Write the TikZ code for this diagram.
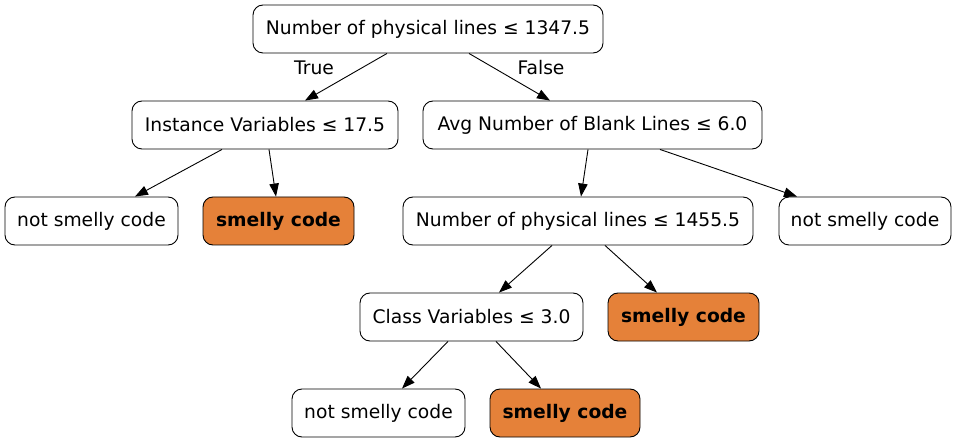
\documentclass[tikz,border=0pt]{standalone}
\usepackage{fontspec}
\setmainfont{DejaVu Sans}
\usetikzlibrary{arrows.meta}
\definecolor{smelly}{HTML}{E58139}
\tikzset{
  box/.style={draw=black, rounded corners=10pt, minimum height=48pt, inner sep=0pt, line width=0.9pt, font=\fontsize{18.7pt}{22pt}\selectfont, fill=white},
  smellybox/.style={box, fill=smelly, font=\fontsize{18.7pt}{22pt}\selectfont\bfseries},
  edge/.style={draw=black, line width=0.9pt, -{Triangle[length=13pt,width=9.5pt]}},
  elabel/.style={font=\fontsize{18.7pt}{22pt}\selectfont}
}
\begin{document}
\begin{tikzpicture}[x=1pt,y=-1pt]
\useasboundingbox (0,0) rectangle (957,443);
\node[box, minimum width=350pt] (root) at (428,29) {Number of physical lines ≤ 1347.5};
\node[box, minimum width=266pt] (inst) at (265,125) {Instance Variables ≤ 17.5};
\node[box, minimum width=339pt] (avg) at (592.5,125) {Avg Number of Blank Lines ≤ 6.0};
\node[box, minimum width=173pt] (ns1) at (91.5,221) {not smelly code};
\node[smellybox, minimum width=151pt] (sm1) at (278.5,221) {smelly code};
\node[box, minimum width=350pt] (num) at (578,221) {Number of physical lines ≤ 1455.5};
\node[box, minimum width=172pt] (ns2) at (865,221) {not smelly code};
\node[box, minimum width=223pt] (cls) at (471.5,317) {Class Variables ≤ 3.0};
\node[smellybox, minimum width=151pt] (sm2) at (683.5,317) {smelly code};
\node[box, minimum width=173pt] (ns3) at (378.5,413) {not smelly code};
\node[smellybox, minimum width=150pt] (sm3) at (565,413) {smelly code};

\draw[edge] ([xshift=-41pt]root.south) -- ([xshift=40pt]inst.north);
\draw[edge] ([xshift=41pt]root.south) -- ([xshift=-42.5pt]avg.north);
\draw[edge] ([xshift=-43pt]inst.south) -- ([xshift=43.5pt]ns1.north);
\draw[edge] ([xshift=4pt]inst.south) -- ([xshift=-2.5pt]sm1.north);
\draw[edge] ([xshift=-4.5pt]avg.south) -- ([xshift=3pt]num.north);
\draw[edge] ([xshift=67.5pt]avg.south) -- ([xshift=-68pt]ns2.north);
\draw[edge] ([xshift=-26pt]num.south) -- ([xshift=27.5pt]cls.north);
\draw[edge] ([xshift=27pt]num.south) -- ([xshift=-26.5pt]sm2.north);
\draw[edge] ([xshift=-23.5pt]cls.south) -- ([xshift=23.5pt]ns3.north);
\draw[edge] ([xshift=24.5pt]cls.south) -- ([xshift=-24pt]sm3.north);

\node[elabel] (ltrue) at (314,68) {True};
\node[elabel] (lfalse) at (541,68) {False};
\end{tikzpicture}
\end{document}
